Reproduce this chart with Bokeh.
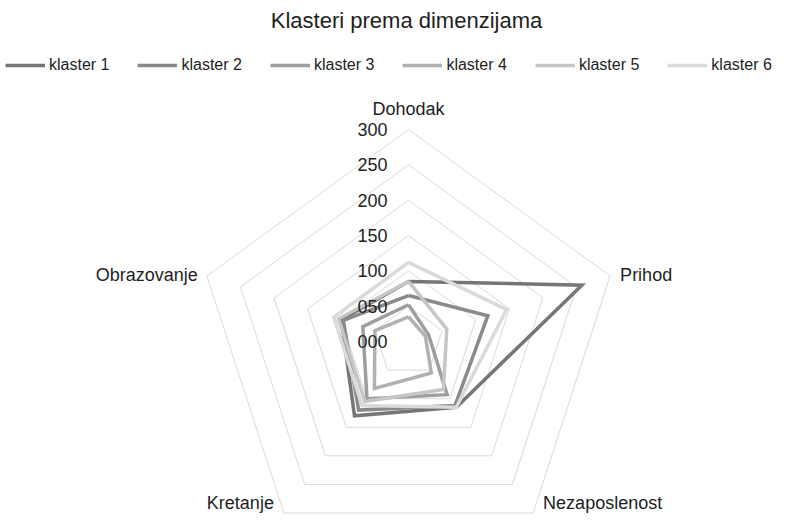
import math
from bokeh.plotting import figure
from bokeh.models import Legend, LegendItem, Range1d, ColumnDataSource, Label
from bokeh.core.properties import value
from bokeh.embed import file_html
from bokeh.resources import INLINE

# ---------------- data ----------------
chart_title = "Klasteri prema dimenzijama"
dimensions = ["Dohodak", "Prihod", "Nezaposlenost", "Kretanje", "Obrazovanje"]
series_names = ["klaster 1", "klaster 2", "klaster 3", "klaster 4", "klaster 5", "klaster 6"]
klaster_1 = [85, 258, 115, 130, 100]
klaster_2 = [65, 118, 112, 120, 97]
klaster_3 = [52, 30, 93, 100, 68]
klaster_4 = [35, 25, 55, 82, 50]
klaster_5 = [85, 57, 84, 105, 104]
klaster_6 = [112, 146, 115, 112, 111]
series_values = [klaster_1, klaster_2, klaster_3, klaster_4, klaster_5, klaster_6]
tick_values = [0, 50, 100, 150, 200, 250, 300]
tick_labels = ["000", "050", "100", "150", "200", "250", "300"]

# ---------------- style ----------------
series_colors = ["#767676", "#8a8a8a", "#9e9e9e", "#b1b1b1", "#c6c6c6", "#dadada"]
grid_color = "#d9d9d9"
text_color = "#1e1e1e"
FONT = "Liberation Sans"

W, H = 778, 514
R_MAX = 300
R_PX = 212.0
s = R_PX / R_MAX
CX, CY = 408.0, 341.0  # centre of the radar in canvas pixels (from top-left)

p = figure(width=W, height=H, output_backend="svg", toolbar_location=None,
           x_range=Range1d(-CX / s, (W - CX) / s),
           y_range=Range1d(-(H - CY) / s, CY / s),
           x_axis_location=None, y_axis_location=None, min_border=0)
p.grid.visible = False
p.outline_line_color = None
p.background_fill_color = "white"
p.border_fill_color = "white"

n = len(dimensions)
angles = [2 * math.pi * i / n for i in range(n)]


def polar(vals):
    xs = [v * math.sin(a) for v, a in zip(vals, angles)]
    ys = [v * math.cos(a) for v, a in zip(vals, angles)]
    return xs + xs[:1], ys + ys[:1]


# grid pentagons
for t in tick_values[1:]:
    gx, gy = polar([t] * n)
    p.line(gx, gy, line_color=grid_color, line_width=1)

# series
items = []
for name, vals, col in zip(series_names, series_values, series_colors):
    sx, sy = polar(vals)
    r = p.line(sx, sy, line_color=col, line_width=3.5, line_join="miter")
    items.append(LegendItem(label=name, renderers=[r]))

# tick labels
tick_src = ColumnDataSource(dict(x=[-21 / s] * len(tick_values), y=tick_values, t=tick_labels))
p.text(x="x", y="y", text="t", source=tick_src, text_font=value(FONT), text_font_size="18px",
       text_color=text_color, text_align="right", text_baseline="middle")

# dimension labels (pixel offsets from each outer vertex)
vx, vy = polar([R_MAX] * n)
off = [(0, 21), (10, 1), (10, 10), (-10, 10), (-9, 1)]
aligns = ["center", "left", "left", "right", "right"]
lab_src = ColumnDataSource(dict(
    x=[vx[i] + off[i][0] / s for i in range(n)],
    y=[vy[i] + off[i][1] / s for i in range(n)],
    t=dimensions, a=aligns))
p.text(x="x", y="y", text="t", source=lab_src, text_font=value(FONT), text_font_size="18px",
       text_color=text_color, text_align="a", text_baseline="middle")

# title
p.add_layout(Label(x=406, y=H - 20, x_units="screen", y_units="screen", text=chart_title,
                   text_font=FONT, text_font_size="22px", text_color=text_color,
                   text_align="center", text_baseline="middle"))

legend = Legend(items=items, orientation="horizontal", location=(5, H - 74),
                glyph_width=40, glyph_height=16, label_height=16, label_standoff=4,
                spacing=28, padding=0, margin=0, border_line_color=None,
                background_fill_alpha=0, label_text_font=FONT, label_text_font_size="16px",
                label_text_color=text_color)
p.add_layout(legend)

open("out.html", "w").write(file_html(p, INLINE))
